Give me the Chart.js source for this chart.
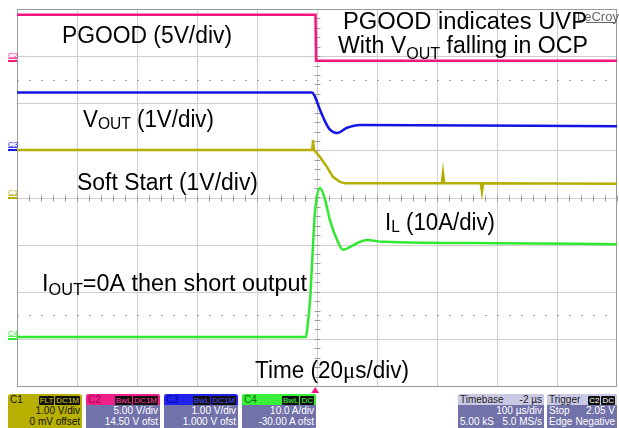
<!DOCTYPE html>
<html>
<head>
<meta charset="utf-8">
<script src="https://cdn.jsdelivr.net/npm/chart.js@4.4.1/dist/chart.umd.min.js"></script>
<style>
    body { margin: 0; background: #fff; width: 619px; height: 428px; overflow: hidden; position: relative;
           font-family: "Liberation Sans", Arial, sans-serif; }
    #wrap { position: absolute; left: 0; top: 0; width: 619px; height: 393px; }
    .box { position: absolute; top: 394px; height: 34px; background: #7272aa; color: #fff;
           font-size: 10px; line-height: 11px; border-radius: 3px 3px 0 0; overflow: hidden; }
    .hd { height: 11px; display: flex; justify-content: space-between; align-items: center; padding: 0 2px; }
    .row { height: 11px; display: flex; justify-content: space-between; padding: 0 2px; }
    .bd { background: #111; padding: 0 1px; font-size: 8px; line-height: 9px; margin-left: 1px; border-radius: 1px; }
</style>
</head>
<body>
<div id="wrap"><canvas id="scope" width="619" height="393"></canvas></div>

<div class="box" style="left:8px;width:74px;background:#b8b000;color:#111">
    <div class="hd"><span>C1</span><span><span class="bd" style="color:#d8d000">FLT</span><span class="bd" style="color:#d8d000">DC1M</span></span></div>
    <div class="row"><span></span><span>1.00 V/div</span></div>
    <div class="row"><span></span><span>0 mV offset</span></div>
</div>
<div class="box" style="left:86px;width:74px">
    <div class="hd" style="background:#f0208a;color:#a0004a"><span>C2</span><span><span class="bd" style="color:#ff3a9c">BwL</span><span class="bd" style="color:#ff3a9c">DC1M</span></span></div>
    <div class="row"><span></span><span>5.00 V/div</span></div>
    <div class="row"><span></span><span>14.50 V ofst</span></div>
</div>
<div class="box" style="left:164px;width:74px">
    <div class="hd" style="background:#2222ee;color:#0000a0"><span>C3</span><span><span class="bd" style="color:#4a4aff">BwL</span><span class="bd" style="color:#4a4aff">DC1M</span></span></div>
    <div class="row"><span></span><span>1.00 V/div</span></div>
    <div class="row"><span></span><span>1.000 V ofst</span></div>
</div>
<div class="box" style="left:242px;width:74px">
    <div class="hd" style="background:#38f038;color:#0a6a0a"><span>C4</span><span><span class="bd" style="color:#40ff40">BwL</span><span class="bd" style="color:#40ff40">DC</span></span></div>
    <div class="row"><span></span><span>10.0 A/div</span></div>
    <div class="row"><span></span><span>-30.00 A ofst</span></div>
</div>
<div class="box" style="left:458px;width:86px">
    <div class="hd" style="background:#c9c9e6;color:#222"><span>Timebase</span><span>-2 µs</span></div>
    <div class="row"><span></span><span>100 µs/div</span></div>
    <div class="row"><span>5.00 kS</span><span>5.0 MS/s</span></div>
</div>
<div class="box" style="left:547px;width:70px">
    <div class="hd" style="background:#c9c9e6;color:#222"><span>Trigger</span><span><span class="bd" style="color:#fff">C2</span><span class="bd" style="color:#fff">DC</span></span></div>
    <div class="row"><span>Stop</span><span>2.05 V</span></div>
    <div class="row"><span>Edge</span><span>Negative</span></div>
</div>

<script>
// Time in microseconds relative to the trigger, 20 us/div
const TIME_MIN = -100;
const TIME_MAX = 100;

// C2: PGOOD (V)
const pgoodTime = [-100, -0.5, -0.3, 100];
const pgoodVolts = [4.9, 4.9, 0.0, 0.0];

// C3: VOUT (V)
const voutTime = [-100, -1.7, -0.7, 1, 2.7, 4.3, 6.7, 10, 14.3, 100];
const voutVolts = [1.23, 1.23, 1.14, 0.86, 0.61, 0.44, 0.37, 0.48, 0.54, 0.51];

// C1: Soft Start (V)
const ssTime = [-100, -1.6, -1.3, -1.0, -0.7, 1, 3.3, 5.3, 7.7, 9.3, 41.6, 42, 42.4, 54.6, 55, 55.4, 100];
const ssVolts = [1.01, 1.01, 1.22, 1.01, 1.01, 0.86, 0.65, 0.44, 0.33, 0.30, 0.30, 0.52, 0.30, 0.30, 0.12, 0.30, 0.29];

// C4: inductor current (A)
const ilTime = [-100, -3.7, -3.3, -2.3, -1.7, -0.7, 1, 2.7, 4.3, 6.7, 8.7, 11, 14.3, 16.7, 22, 60, 100];
const ilAmps = [0.4, 0.4, 1.9, 8.3, 15.3, 26.7, 32.0, 29.5, 25.2, 21.0, 18.9, 19.5, 20.6, 21.0, 20.6, 20.3, 20.1];

// per-channel screen range (8 divisions), from volts/div and offset
const CHANNELS = {
    yC1: { min: -4, max: 4, color: '#b5ae05', label: 'C1' },
    yC2: { min: -34.5, max: 5.5, color: '#f5157f', label: 'C2' },
    yC3: { min: -5, max: 3, color: '#1414e6', label: 'C3' },
    yC4: { min: -10, max: 70, color: '#30e830', label: 'C4' }
};

function toPoints(xs, ys) {
    return xs.map((x, i) => ({ x: x, y: ys[i] }));
}

const FONT = '"Liberation Sans", Arial, sans-serif';

// draws text runs (with subscripts), stretched to the measured width
function rich(ctx, x, y, parts, width) {
    let total = 0;
    parts.forEach(p => {
        ctx.font = (p.size || 23) + 'px ' + (p.family || FONT);
        total += ctx.measureText(p.t).width;
    });
    const sx = width ? width / total : 1;
    ctx.save();
    ctx.translate(x, y);
    ctx.scale(sx, 1);
    let cx = 0;
    parts.forEach(p => {
        ctx.font = (p.size || 23) + 'px ' + (p.family || FONT);
        ctx.fillText(p.t, cx, p.dy || 0);
        cx += ctx.measureText(p.t).width;
    });
    ctx.restore();
}

const scopeDecor = {
    id: 'scopeDecor',
    beforeDatasetsDraw(chart) {
        const { ctx, chartArea: a, scales } = chart;
        ctx.save();
        ctx.lineWidth = 1;
        // division grid
        ctx.strokeStyle = '#cfcfcf';
        for (let t = TIME_MIN + 20; t < TIME_MAX; t += 20) {
            const x = Math.round(scales.x.getPixelForValue(t)) + 0.5;
            ctx.beginPath(); ctx.moveTo(x, a.top); ctx.lineTo(x, a.bottom); ctx.stroke();
        }
        for (let v = -3; v <= 3; v += 1) {
            const y = Math.round(scales.yC1.getPixelForValue(v)) + 0.5;
            ctx.beginPath(); ctx.moveTo(a.left, y); ctx.lineTo(a.right, y); ctx.stroke();
        }
        // sparse dashed marker lines
        ctx.strokeStyle = '#a0a0a0';
        ctx.setLineDash([2, 10]);
        [2.5, -2.5].forEach(v => {
            const y = Math.round(scales.yC1.getPixelForValue(v)) + 0.5;
            ctx.beginPath(); ctx.moveTo(a.left, y); ctx.lineTo(a.right, y); ctx.stroke();
        });
        ctx.setLineDash([]);
        // minor ticks on center lines
        ctx.strokeStyle = '#9a9a9a';
        const cx = Math.round(scales.x.getPixelForValue(0)) + 0.5;
        const cy = Math.round(scales.yC1.getPixelForValue(0)) + 0.5;
        for (let t = TIME_MIN; t <= TIME_MAX; t += 4) {
            const x = Math.round(scales.x.getPixelForValue(t)) + 0.5;
            ctx.beginPath(); ctx.moveTo(x, cy - 3); ctx.lineTo(x, cy + 3); ctx.stroke();
        }
        for (let v = -4; v <= 4; v += 0.2) {
            const y = Math.round(scales.yC1.getPixelForValue(v)) + 0.5;
            ctx.beginPath(); ctx.moveTo(cx - 3, y); ctx.lineTo(cx + 3, y); ctx.stroke();
        }
        // frame
        ctx.strokeStyle = '#9a9a9a';
        ctx.strokeRect(a.left + 0.5, a.top + 0.5, a.right - a.left - 1, a.bottom - a.top);
        // channel ground markers
        Object.keys(CHANNELS).forEach(id => {
            const ch = CHANNELS[id];
            const y = Math.round(scales[id].getPixelForValue(0));
            ctx.fillStyle = ch.color;
            ctx.fillRect(8, y - 1, a.left - 8, 2);
            ctx.font = '8px ' + FONT;
            ctx.fillText(ch.label, 8, y - 3);
            ctx.fillRect(8, y - 3, 9, 0.8);
        });
        // LeCroy mark
        ctx.fillStyle = '#666';
        ctx.font = '13px ' + FONT;
        ctx.fillText('LeCroy', 577, 21);
        ctx.fillRect(586, 22, 29, 1);
        ctx.restore();
    },
    afterDatasetsDraw(chart) {
        const { ctx, chartArea: a, scales } = chart;
        ctx.save();
        ctx.fillStyle = '#000';
        ctx.textBaseline = 'alphabetic';
        rich(ctx, 62, 43, [{ t: 'PGOOD (5V/div)' }], 170);
        rich(ctx, 343, 29, [{ t: 'PGOOD indicates UVP' }], 244);
        rich(ctx, 338, 53, [{ t: 'With V' }, { t: 'OUT', size: 16, dy: 6 }, { t: ' falling in OCP' }], 250);
        rich(ctx, 83, 127, [{ t: 'V' }, { t: 'OUT', size: 16, dy: 2 }, { t: ' (1V/div)' }], 131);
        rich(ctx, 77, 190, [{ t: 'Soft Start (1V/div)' }], 181);
        rich(ctx, 385, 230, [{ t: 'I' }, { t: 'L', size: 16, dy: 2 }, { t: ' (10A/div)' }], 110);
        rich(ctx, 42, 291, [{ t: 'I' }, { t: 'OUT', size: 16, dy: 4 }, { t: '=0A then short output' }], 265);
        rich(ctx, 255, 378, [{ t: 'Time (20' }, { t: 'μ', family: '"Liberation Serif", serif' }, { t: 's/div)' }], 154);
        // trigger position marker
        const tx = scales.x.getPixelForValue(-0.6);
        ctx.fillStyle = '#f5157f';
        ctx.beginPath();
        ctx.moveTo(tx, a.bottom + 1);
        ctx.lineTo(tx - 4, a.bottom + 7);
        ctx.lineTo(tx + 4, a.bottom + 7);
        ctx.closePath();
        ctx.fill();
        ctx.restore();
    }
};

function hiddenAxis(id) {
    return { type: 'linear', display: false, min: CHANNELS[id].min, max: CHANNELS[id].max };
}

new Chart(document.getElementById('scope'), {
    type: 'line',
    data: {
        datasets: [
            { label: 'IL', data: toPoints(ilTime, ilAmps), yAxisID: 'yC4',
              borderColor: CHANNELS.yC4.color, borderWidth: 2.5, cubicInterpolationMode: 'monotone' },
            { label: 'Soft Start', data: toPoints(ssTime, ssVolts), yAxisID: 'yC1',
              borderColor: CHANNELS.yC1.color, borderWidth: 2.5, tension: 0 },
            { label: 'VOUT', data: toPoints(voutTime, voutVolts), yAxisID: 'yC3',
              borderColor: CHANNELS.yC3.color, borderWidth: 2.5, cubicInterpolationMode: 'monotone' },
            { label: 'PGOOD', data: toPoints(pgoodTime, pgoodVolts), yAxisID: 'yC2',
              borderColor: CHANNELS.yC2.color, borderWidth: 2.5, tension: 0 }
        ]
    },
    options: {
        responsive: false,
        animation: false,
        events: [],
        devicePixelRatio: 1,
        elements: { point: { radius: 0 } },
        layout: { padding: { left: 17, right: 2, top: 9, bottom: 7 } },
        plugins: { legend: { display: false }, tooltip: { enabled: false } },
        scales: {
            x: { type: 'linear', display: false, min: TIME_MIN, max: TIME_MAX },
            yC1: hiddenAxis('yC1'),
            yC2: hiddenAxis('yC2'),
            yC3: hiddenAxis('yC3'),
            yC4: hiddenAxis('yC4')
        }
    },
    plugins: [scopeDecor]
});
</script>
</body>
</html>
